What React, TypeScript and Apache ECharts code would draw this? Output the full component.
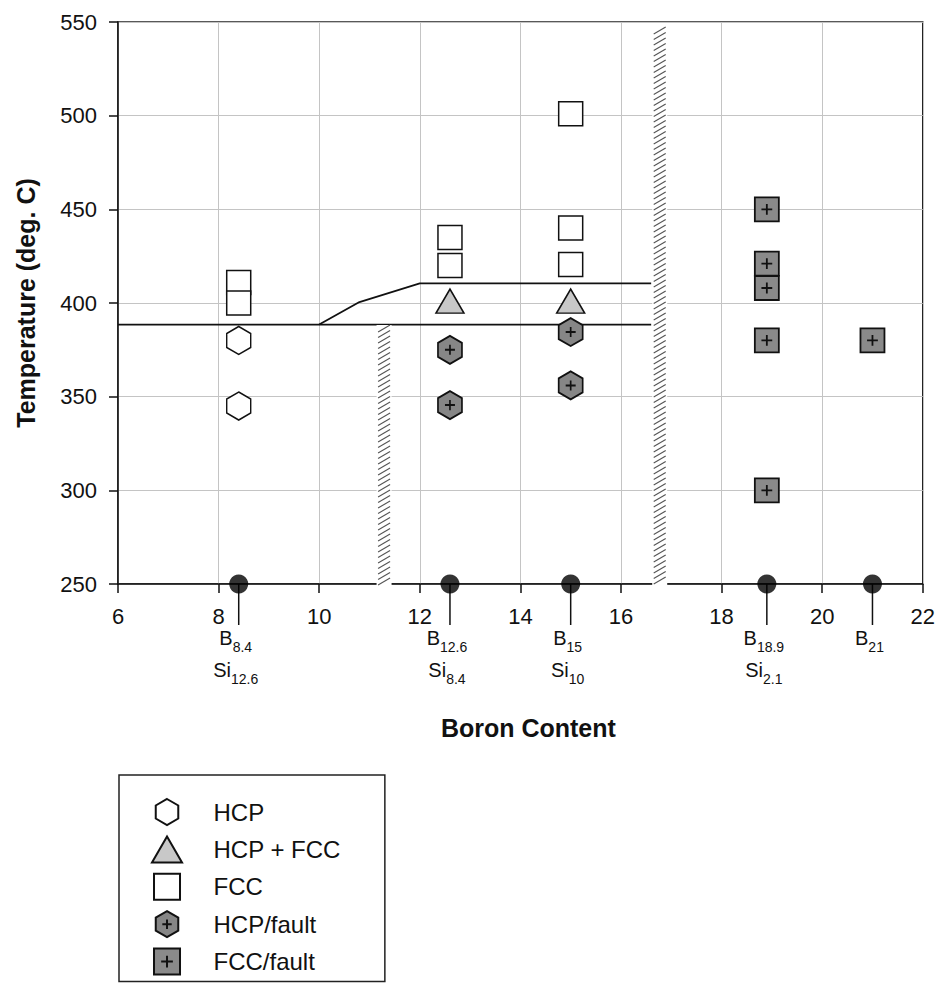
import React, { useEffect, useRef } from 'react';
import * as echarts from 'echarts';

// ---- data ----
const hcpPoints = [[8.4, 380], [8.4, 345]];
const hcpFccPoints = [[12.6, 401], [15, 401]];
const fccPoints = [[8.4, 411], [8.4, 400], [12.6, 435], [12.6, 420], [15, 501], [15, 440], [15, 420.5]];
const hcpFaultPoints = [[12.6, 375], [12.6, 345.5], [15, 384.5], [15, 356]];
const fccFaultPoints = [[18.9, 450], [18.9, 421], [18.9, 408], [18.9, 380], [18.9, 300], [21, 380]];

const compositions = [8.4, 12.6, 15, 18.9, 21];
const compositionTemp = 250;
const boronLabels = ['8.4', '12.6', '15', '18.9', '21'];
const siliconLabels = ['12.6', '8.4', '10', '2.1', ''];

const lowerBoundary = [[6, 388.5], [16.6, 388.5]];
const upperBoundary = [[10, 388.5], [10.8, 400.5], [12, 410.5], [16.6, 410.5]];

const breakX = [11.29, 16.77];
const breakLow = [247.8, 247.8];
const breakHigh = [388.3, 547.3];

const legendNames = ['HCP', 'HCP + FCC', 'FCC', 'HCP/fault', 'FCC/fault'];

const HEX = 'path://M0,-1L0.866,-0.5L0.866,0.5L0,1L-0.866,0.5L-0.866,-0.5Z';
const HEX_PLUS = 'path://M0,-1L0.866,-0.5L0.866,0.5L0,1L-0.866,0.5L-0.866,-0.5ZM0,-0.36L0,0.36M-0.36,0L0.36,0';
const TRI = 'path://M0,-0.866L1,0.866L-1,0.866Z';
const SQR = 'path://M-1,-1L1,-1L1,1L-1,1Z';
const SQR_PLUS = 'path://M-1,-1L1,-1L1,1L-1,1ZM0,-0.45L0,0.45M-0.45,0L0.45,0';

const FONT = "'Liberation Sans', Arial, Helvetica, sans-serif";

export default function App() {
  const ref = useRef<HTMLDivElement>(null);
  useEffect(() => {
    document.body.style.margin = '0';
    const chart = echarts.init(ref.current!, undefined, { renderer: 'svg' });

    const breaks = breakX.map((x, i) => [x, breakLow[i], breakHigh[i]]);

    const option: any = {
      animation: false,
      backgroundColor: '#fff',
      textStyle: { fontFamily: FONT, color: '#111' },
      grid: {
        left: 118, top: 22, width: 805, height: 562,
        show: true, borderColor: '#222', borderWidth: 1.5, backgroundColor: 'transparent',
      },
      xAxis: {
        type: 'value', min: 6, max: 22, interval: 2,
        axisLine: { onZero: false, lineStyle: { color: '#111', width: 1.5 } },
        axisTick: { show: true, length: 9, lineStyle: { color: '#111', width: 1.5 } },
        axisLabel: { fontSize: 22, color: '#111', margin: 21, fontFamily: FONT },
        splitLine: { show: true, lineStyle: { color: '#c4c4c4', width: 1 } },
        name: 'Boron Content', nameLocation: 'middle', nameGap: 131,
        nameTextStyle: { fontSize: 25, fontWeight: 'bold', color: '#111', fontFamily: FONT, padding: [0, 0, 0, 16] },
      },
      yAxis: {
        type: 'value', min: 250, max: 550, interval: 50,
        axisLine: { onZero: false, lineStyle: { color: '#111', width: 1.5 } },
        axisTick: { show: true, length: 9, lineStyle: { color: '#111', width: 1.5 } },
        axisLabel: { fontSize: 22, color: '#111', margin: 21, fontFamily: FONT },
        splitLine: { show: true, lineStyle: { color: '#c4c4c4', width: 1 } },
        name: 'Temperature (deg. C)', nameLocation: 'middle', nameGap: 80,
        nameTextStyle: { fontSize: 25, fontWeight: 'bold', color: '#111', fontFamily: FONT },
      },
      legend: {
        data: legendNames,
        orient: 'vertical', left: 119, top: 775,
        padding: [23, 44, 6, 32],
        itemWidth: 83, itemHeight: 26, itemGap: 9.4,
        borderColor: '#222', borderWidth: 1.5, backgroundColor: '#fff',
        selectedMode: false,
        textStyle: { fontSize: 24, color: '#111', lineHeight: 26, fontFamily: FONT },
      },
      series: [
        {
          name: 'lower boundary', type: 'line', data: lowerBoundary, symbol: 'none',
          lineStyle: { color: '#111', width: 1.8 }, z: 2, silent: true,
        },
        {
          name: 'upper boundary', type: 'line', data: upperBoundary, symbol: 'none',
          lineStyle: { color: '#111', width: 1.8 }, z: 2, silent: true,
        },
        {
          name: 'axis break', type: 'custom', data: breaks, clip: false, z: 3, silent: true,
          renderItem: (_params: any, api: any) => {
            const x = api.value(0), lo = api.value(1), hi = api.value(2);
            const top = api.coord([x, hi]);
            const bot = api.coord([x, lo]);
            const w = 15;
            const left = top[0] - w / 2;
            const children: any[] = [
              { type: 'rect', shape: { x: left, y: top[1], width: w, height: bot[1] - top[1] }, style: { fill: '#fff' } },
            ];
            for (let yy = top[1] + 7; yy <= bot[1]; yy += 5.5) {
              children.push({
                type: 'line',
                shape: { x1: left + 1.5, y1: yy, x2: left + w - 1.5, y2: yy - 7 },
                style: { stroke: '#555', lineWidth: 1.1 },
              });
            }
            return { type: 'group', children };
          },
        },
        {
          name: 'composition labels', type: 'custom', clip: false, z: 3, silent: true,
          data: compositions.map((x) => [x, compositionTemp]),
          renderItem: (params: any, api: any) => {
            const i = params.dataIndex;
            const p = api.coord([api.value(0), api.value(1)]);
            let text = `{b|B}{s|${boronLabels[i]}}`;
            if (siliconLabels[i]) text += `\n{b|Si}{s|${siliconLabels[i]}}`;
            return {
              type: 'group',
              children: [
                { type: 'line', shape: { x1: p[0], y1: p[1], x2: p[0], y2: p[1] + 41 }, style: { stroke: '#111', lineWidth: 1.5 } },
                {
                  type: 'text', x: p[0] - 3, y: p[1] + 38,
                  style: {
                    text, align: 'center', verticalAlign: 'top', fill: '#111', fontFamily: FONT,
                    rich: {
                      b: { fontSize: 20, lineHeight: 32, fontFamily: FONT, fill: '#111' },
                      s: { fontSize: 14, lineHeight: 10, verticalAlign: 'bottom', fontFamily: FONT, fill: '#111' },
                    },
                  },
                },
              ],
            };
          },
        },
        {
          name: 'compositions', type: 'scatter', clip: false, z: 4, silent: true,
          data: compositions.map((x) => [x, compositionTemp]),
          symbol: 'circle', symbolSize: 19,
          itemStyle: { color: '#000' },
        },
        {
          name: 'HCP', type: 'scatter', data: hcpPoints, symbol: HEX, symbolSize: [24, 28], z: 5,
          itemStyle: { color: '#fff', borderColor: '#111', borderWidth: 1.5, opacity: 1 },
        },
        {
          name: 'HCP + FCC', type: 'scatter', data: hcpFccPoints, symbol: TRI, symbolSize: [28, 24], z: 5,
          itemStyle: { color: '#c8c8c8', borderColor: '#111', borderWidth: 1.5, opacity: 1 },
        },
        {
          name: 'FCC', type: 'scatter', data: fccPoints, symbol: SQR, symbolSize: 24, z: 5,
          itemStyle: { color: '#fff', borderColor: '#111', borderWidth: 1.5, opacity: 1 },
        },
        {
          name: 'HCP/fault', type: 'scatter', data: hcpFaultPoints, symbol: HEX_PLUS, symbolSize: [24, 28], z: 5,
          itemStyle: { color: '#868686', borderColor: '#111', borderWidth: 1.8, opacity: 1 },
        },
        {
          name: 'FCC/fault', type: 'scatter', data: fccFaultPoints, symbol: SQR_PLUS, symbolSize: 24, z: 5,
          itemStyle: { color: '#8a8a8a', borderColor: '#111', borderWidth: 1.8, opacity: 1 },
        },
      ],
    };
    chart.setOption(option);
    return () => chart.dispose();
  }, []);
  return <div ref={ref} style={{ width: 938, height: 987, overflow: 'hidden' }} />;
}
